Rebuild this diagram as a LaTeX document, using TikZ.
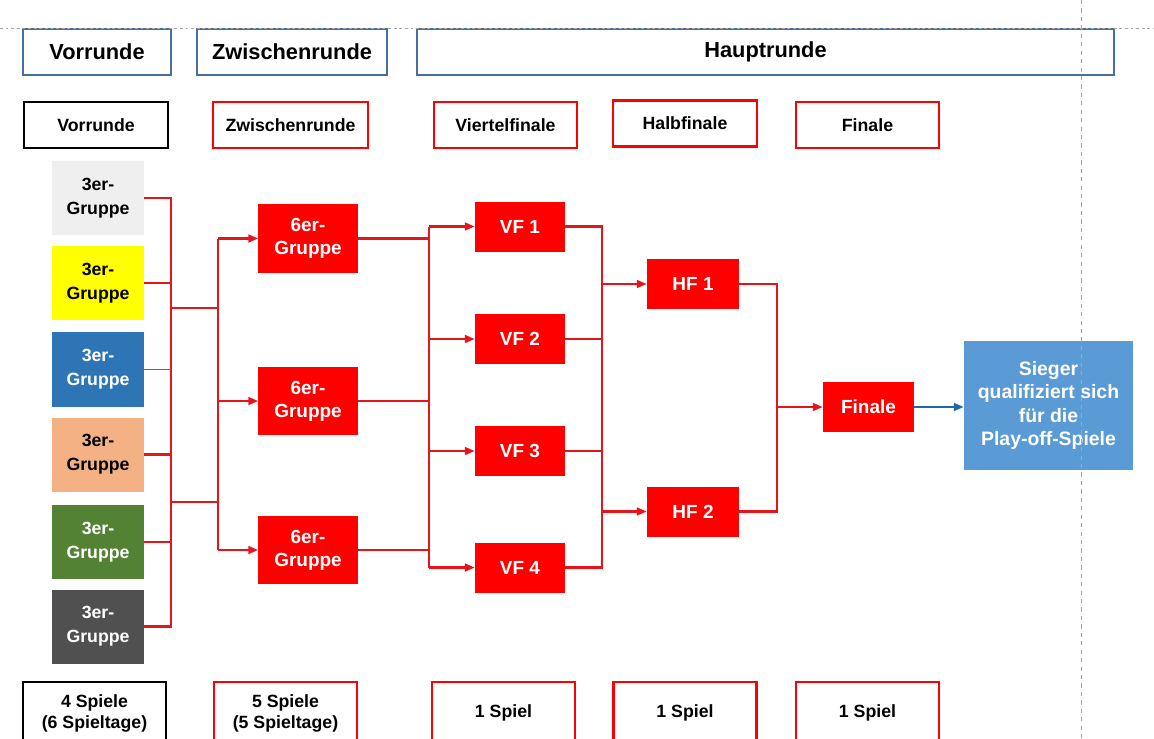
\documentclass[tikz,border=0pt]{standalone}
\usepackage{fontspec}
\setmainfont{Liberation Sans}
\usetikzlibrary{arrows.meta, calc, positioning}
\definecolor{HBlue}{HTML}{41719C}
\definecolor{Red}{HTML}{FF0000}
\definecolor{LRed}{HTML}{E8141B}
\definecolor{LGray}{HTML}{EFEFEF}
\definecolor{Yell}{HTML}{FFFF00}
\definecolor{GBlue}{HTML}{2E75B6}
\definecolor{Peach}{HTML}{F4B183}
\definecolor{GGreen}{HTML}{548235}
\definecolor{DGray}{HTML}{505050}
\definecolor{SBlue}{HTML}{5B9BD5}
\definecolor{ABlue}{HTML}{1F6AA5}
\definecolor{Guide}{HTML}{A6A6A6}

\tikzset{
  box/.style={inner sep=0pt, align=center, font=\fontsize{12.6}{17}\selectfont\bfseries},
  hdr/.style={box, draw=HBlue, line width=1.5pt, minimum height=1.15cm,
    font=\fontsize{15.5}{18}\selectfont\bfseries},
  phase/.style={box, draw=Red, line width=1.5pt, minimum width=3.6cm, minimum height=1.15cm},
  grp/.style={box, minimum width=2.3cm, minimum height=1.85cm},
  game/.style={box, fill=Red, text=white, font=\fontsize{13.5}{16.5}\selectfont\bfseries},
  link/.style={LRed, line width=1.6pt, line join=miter},
  arr/.style={link, -{Triangle[length=7pt, width=5.5pt]}},
}

\begin{document}
\begin{tikzpicture}[x=0.025cm, y=-0.025cm]
  \useasboundingbox (0,0) rectangle (1154,738);
  \clip (0,0) rectangle (1154,738);

  % headers
  \node[hdr, minimum width=3.7cm] (hVor) at (97,52) {Vorrunde};
  \node[hdr, minimum width=4.75cm] (hZw) at (292,52) {Zwischenrunde};
  \node[hdr, minimum width=17.425cm] (hHaupt) at (765.5,52) {Hauptrunde};

  \node[phase, draw=black] (pVor) at (96,125) {Vorrunde};
  \node[phase, minimum width=3.875cm] (pZw) at (290.5,125) {Zwischenrunde};
  \node[phase, minimum width=3.575cm] (pVF) at (505.5,125) {Viertelfinale};
  \node[phase] (pHF) at (685,123.5) {Halbfinale};
  \node[phase, minimum width=3.575cm] (pFin) at (867.5,125) {Finale};

  % groups
  \foreach \n/\y/\c/\t in {1/198/LGray/black, 2/283/Yell/black, 3/369.5/GBlue/white,
      4/454.5/Peach/black, 5/542/GGreen/white, 6/626.5/DGray/white}
    \node[grp, fill=\c, text=\t] (g\n) at (98,\y) {3er-\\Gruppe};

  \foreach \n/\y in {1/238.5, 2/401, 3/550}
    \node[game, minimum width=2.475cm, minimum height=1.7cm] (s\n) at (308,\y) {6er-\\Gruppe};

  \foreach \n/\y in {1/226.5, 2/339, 3/451, 4/567.5}
    \node[game, minimum width=2.25cm, minimum height=1.25cm] (vf\n) at (520,\y) {VF \n};

  \node[game, minimum width=2.3cm, minimum height=1.25cm] (hf1) at (693,284) {HF 1};
  \node[game, minimum width=2.3cm, minimum height=1.25cm] (hf2) at (693,511.5) {HF 2};
  \node[game, minimum width=2.275cm, minimum height=1.25cm] (fin) at (868.5,407) {Finale};

  \node[box, fill=SBlue, text=white, minimum width=4.225cm, minimum height=3.225cm,
    font=\fontsize{13.8}{16.4}\selectfont\bfseries] (sieger) at (1048.5,405.5)
    {Sieger\\qualifiziert sich\\für die\\Play-off-Spiele};

  % bottom row
  \node[phase, draw=black, minimum width=3.575cm, minimum height=1.55cm,
    font=\fontsize{12.6}{15}\selectfont\bfseries] (bVor) at (94.5,713) {4 Spiele\\(6 Spieltage)};
  \node[phase, minimum width=3.575cm, minimum height=1.55cm,
    font=\fontsize{12.6}{15}\selectfont\bfseries] (bZw) at (285.5,713) {5 Spiele\\(5 Spieltage)};
  \foreach \n/\x in {VF/503.5, HF/685, Fin/867.5}
    \node[phase, minimum width=3.575cm, minimum height=1.55cm] (b\n) at (\x,713) {1 Spiel};

  % Vorrunde -> Zwischenrunde
  \coordinate (colA) at (171,0);
  \coordinate (colB) at (218,0);
  \draw[link] (g1.east) -| (g6.east -| colA) -- (g6.east);
  \foreach \n in {2,4,5}
    \draw[link] (g\n.east) -- (g\n.east -| colA);
  \draw[GBlue, line width=1pt] (g3.east) -- (g3.east -| colA);
  \coordinate (jA) at (171,308);
  \coordinate (jB) at (171,502);
  \draw[link] (jA) -- (jA -| colB);
  \draw[link] (jB) -- (jB -| colB);
  \draw[link] (s1.west -| colB) -- (s3.west -| colB);
  \foreach \n in {1,2,3}
    \draw[arr] (s\n.west -| colB) -- (s\n.west);

  % Zwischenrunde -> Viertelfinale
  \coordinate (colC) at (429,0);
  \foreach \n in {1,2,3}
    \draw[link] (s\n.east) -- (s\n.east -| colC);
  \draw[link] (vf1.west -| colC) -- (vf4.west -| colC);
  \foreach \n in {1,...,4}
    \draw[arr] (vf\n.west -| colC) -- (vf\n.west);

  % Viertelfinale -> Halbfinale
  \coordinate (colD) at (602,0);
  \draw[link] (vf1.east) -| (vf4.east -| colD) -- (vf4.east);
  \foreach \n in {2,3}
    \draw[link] (vf\n.east) -- (vf\n.east -| colD);
  \draw[arr] (hf1.west -| colD) -- (hf1.west);
  \draw[arr] (hf2.west -| colD) -- (hf2.west);

  % Halbfinale -> Finale
  \coordinate (colE) at (777,0);
  \draw[link] (hf1.east) -| (hf2.east -| colE) -- (hf2.east);
  \draw[arr] (fin.west -| colE) -- (fin.west);
  \draw[ABlue, line width=1.6pt, -{Triangle[length=7pt, width=5.5pt]}]
    (fin.east) -- (fin.east -| sieger.west);

  % guides
  \draw[Guide, line width=0.6pt, dash pattern=on 2pt off 2pt] (0,28) -- (1154,28);
  \draw[Guide, line width=0.6pt, dash pattern=on 3pt off 3pt] (1081,0) -- (1081,738);
\end{tikzpicture}
\end{document}
